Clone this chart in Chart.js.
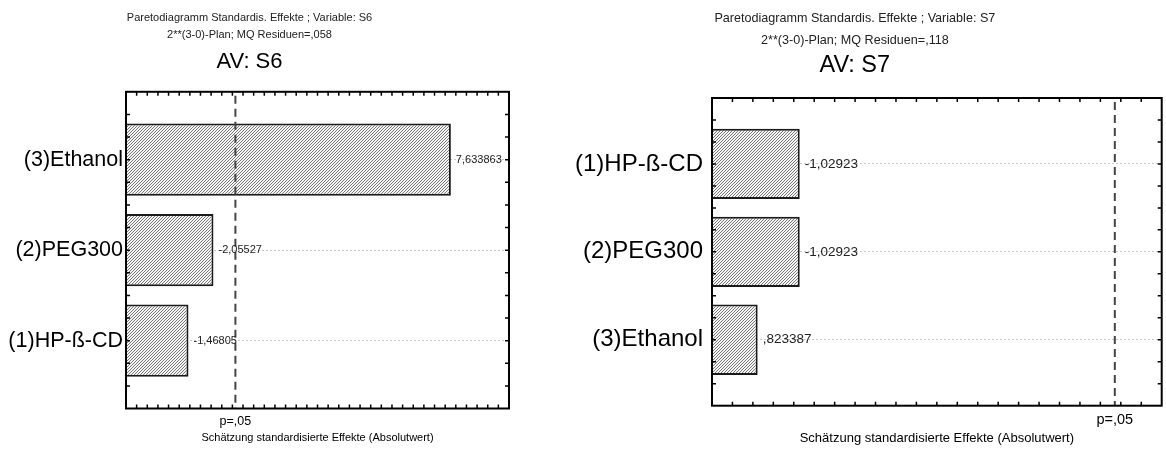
<!DOCTYPE html>
<html>
<head>
<meta charset="utf-8">
<script src="https://cdn.jsdelivr.net/npm/chart.js@4.4.0/dist/chart.umd.min.js"></script>
<style>
  body { margin: 0; background: #fff; }
  #wrap { position: relative; width: 1166px; height: 450px; overflow: hidden; }
  #wrap canvas { position: absolute; top: 0; }
  #s6 { left: -10px; width: 522px; height: 450px; }
  #s7 { left: 548px; width: 616px; height: 450px; }
</style>
</head>
<body>
<div id="wrap">
  <canvas id="s6" width="522" height="450"></canvas>
  <canvas id="s7" width="616" height="450"></canvas>
</div>
<script>
// Pareto charts of standardized effects, 2**(3-0) design
const s6Categories = ['(3)Ethanol', '(2)PEG300', '(1)HP-ß-CD'];
const s6Effects = [7.633863, -2.05527, -1.46805];
const s6Titles = ['Paretodiagramm Standardis. Effekte ; Variable: S6', '2**(3-0)-Plan; MQ Residuen=,058'];
const s6Range = [0, 9];
const s6Step = 0.25;

const s7Categories = ['(1)HP-ß-CD', '(2)PEG300', '(3)Ethanol'];
const s7Effects = [-1.02923, -1.02923, 0.823387];
const s7Titles = ['Paretodiagramm Standardis. Effekte ; Variable: S7', '2**(3-0)-Plan; MQ Residuen=,118'];
const s7Range = [0.6, 2.8];
const s7Step = 0.1;

const critT = 2.570582;        // t value for p=,05
const critLabel = 'p=,05';
const xTitle = 'Schätzung standardisierte Effekte (Absolutwert)';

const FONT = "'Liberation Sans', Arial, Helvetica, sans-serif";

// ,823387 style numbers
function fmt(v) {
  return String(v).replace('.', ',').replace(/^(-?)0,/, '$1,');
}

// fine diagonal hatch for the bars
function hatch() {
  const c = document.createElement('canvas');
  c.width = c.height = 3;
  const g = c.getContext('2d');
  g.fillStyle = '#f4f4f4';
  g.fillRect(0, 0, 3, 3);
  g.strokeStyle = '#7a7a7a';
  g.lineWidth = 1;
  g.beginPath();
  g.moveTo(0, 3); g.lineTo(3, 0);
  g.moveTo(-1, 1); g.lineTo(1, -1);
  g.moveTo(2, 4); g.lineTo(4, 2);
  g.stroke();
  return g.createPattern(c, 'repeat');
}

function paretoChart(id, cfg) {
  const frame = {
    id: 'paretoFrame',
    afterDatasetsDraw(chart) {
      const { ctx, chartArea: a, scales: { x, y } } = chart;
      ctx.save();

      // significance line
      const px = x.getPixelForValue(critT);
      ctx.strokeStyle = '#444';
      ctx.lineWidth = 2;
      ctx.setLineDash([8, 5]);
      ctx.beginPath();
      ctx.moveTo(px, a.top + 4);
      ctx.lineTo(px, a.bottom);
      ctx.stroke();
      ctx.setLineDash([]);

      // effect values next to the bars
      ctx.font = cfg.valueSize + 'px ' + FONT;
      ctx.fillStyle = '#222';
      ctx.textBaseline = 'middle';
      ctx.textAlign = 'left';
      chart.getDatasetMeta(0).data.forEach((bar, i) => {
        ctx.fillText(fmt(cfg.effects[i]), bar.x + 5, bar.y);
      });

      // inner tick marks on all four sides
      ctx.strokeStyle = '#000';
      ctx.lineWidth = 1.5;
      ctx.beginPath();
      const nx = Math.round((x.max - x.min) / cfg.xStep);
      for (let k = 1; k < nx; k++) {
        const p = x.getPixelForValue(x.min + k * cfg.xStep);
        ctx.moveTo(p, a.top); ctx.lineTo(p, a.top + 4);
        ctx.moveTo(p, a.bottom); ctx.lineTo(p, a.bottom - 4);
      }
      const ny = Math.round((y.max - y.min) / 0.25);
      for (let k = 1; k < ny; k++) {
        const p = y.getPixelForValue(y.min + k * 0.25);
        ctx.moveTo(a.left, p); ctx.lineTo(a.left + 4, p);
        ctx.moveTo(a.right, p); ctx.lineTo(a.right - 4, p);
      }
      ctx.stroke();

      ctx.lineWidth = 2;
      ctx.strokeRect(a.left, a.top, a.right - a.left, a.bottom - a.top);
      ctx.restore();
    }
  };

  return new Chart(document.getElementById(id), {
    type: 'bar',
    data: {
      datasets: [{
        data: cfg.categories.map((c, i) => ({ x: Math.abs(cfg.effects[i]), y: i + 1 })),
        backgroundColor: hatch(),
        borderColor: '#1a1a1a',
        borderWidth: 2,
        categoryPercentage: 1,
        barPercentage: 0.8
      }]
    },
    options: {
      indexAxis: 'y',
      responsive: false,
      animation: false,
      events: [],
      layout: { padding: { right: cfg.padRight } },
      plugins: {
        legend: { display: false },
        tooltip: { enabled: false },
        title: {
          display: true,
          text: cfg.titles,
          color: '#222',
          font: { family: FONT, size: cfg.titleSize, weight: 'normal', lineHeight: cfg.titleLH },
          padding: { top: cfg.titlePad, bottom: 0 }
        },
        subtitle: {
          display: true,
          text: cfg.dv,
          color: '#000',
          font: { family: FONT, size: cfg.dvSize, lineHeight: 1.2 },
          padding: cfg.dvPad
        }
      },
      scales: {
        x: {
          type: 'linear',
          offset: false,
          min: cfg.range[0],
          max: cfg.range[1],
          afterBuildTicks: s => { s.ticks = [{ value: critT }]; },
          ticks: {
            callback: () => critLabel,
            color: '#000',
            font: { family: FONT, size: cfg.pSize, lineHeight: 1.2 },
            padding: cfg.pPad,
            maxRotation: 0,
            autoSkip: false
          },
          grid: { display: false, drawTicks: false },
          border: { display: false },
          title: {
            display: true,
            text: xTitle,
            color: '#000',
            font: { family: FONT, size: cfg.axisSize, lineHeight: 1.2 },
            padding: cfg.axisPad
          }
        },
        y: {
          type: 'linear',
          offset: false,
          reverse: true,
          min: 0.25,
          max: cfg.categories.length + 0.75,
          afterBuildTicks: s => { s.ticks = cfg.categories.map((c, i) => ({ value: i + 1 })); },
          afterFit: s => { s.width = cfg.yWidth; },
          ticks: {
            callback: v => cfg.categories[v - 1],
            color: '#000',
            font: { family: FONT, size: cfg.catSize },
            padding: cfg.catPad,
            autoSkip: false
          },
          grid: { offset: false, color: '#c8c8c8', lineWidth: 1, drawTicks: false },
          border: { display: false, dash: [2, 2] }
        }
      }
    },
    plugins: [frame]
  });
}

paretoChart('s6', {
  categories: s6Categories, effects: s6Effects, titles: s6Titles, dv: 'AV: S6',
  range: s6Range, xStep: s6Step,
  yWidth: 136, padRight: 3,
  titleSize: 11, titleLH: 1.6, titlePad: 9,
  dvSize: 22, dvPad: { top: 4.4, bottom: 16.8 },
  catSize: 21.5, catPad: 3, valueSize: 11,
  pSize: 12.5, pPad: 5.5,
  axisSize: 11, axisPad: { top: -3.1, bottom: 5.4 }
});

paretoChart('s7', {
  categories: s7Categories, effects: s7Effects, titles: s7Titles, dv: 'AV: S7',
  range: s7Range, xStep: s7Step,
  yWidth: 164, padRight: 2.3,
  titleSize: 12.6, titleLH: 1.75, titlePad: 7.3,
  dvSize: 23.5, dvPad: { top: 0.5, bottom: 17.9 },
  catSize: 24, catPad: 9, valueSize: 13.5,
  pSize: 14.5, pPad: 5.3,
  axisSize: 13, axisPad: { top: -3.5, bottom: 4.2 }
});
</script>
</body>
</html>
